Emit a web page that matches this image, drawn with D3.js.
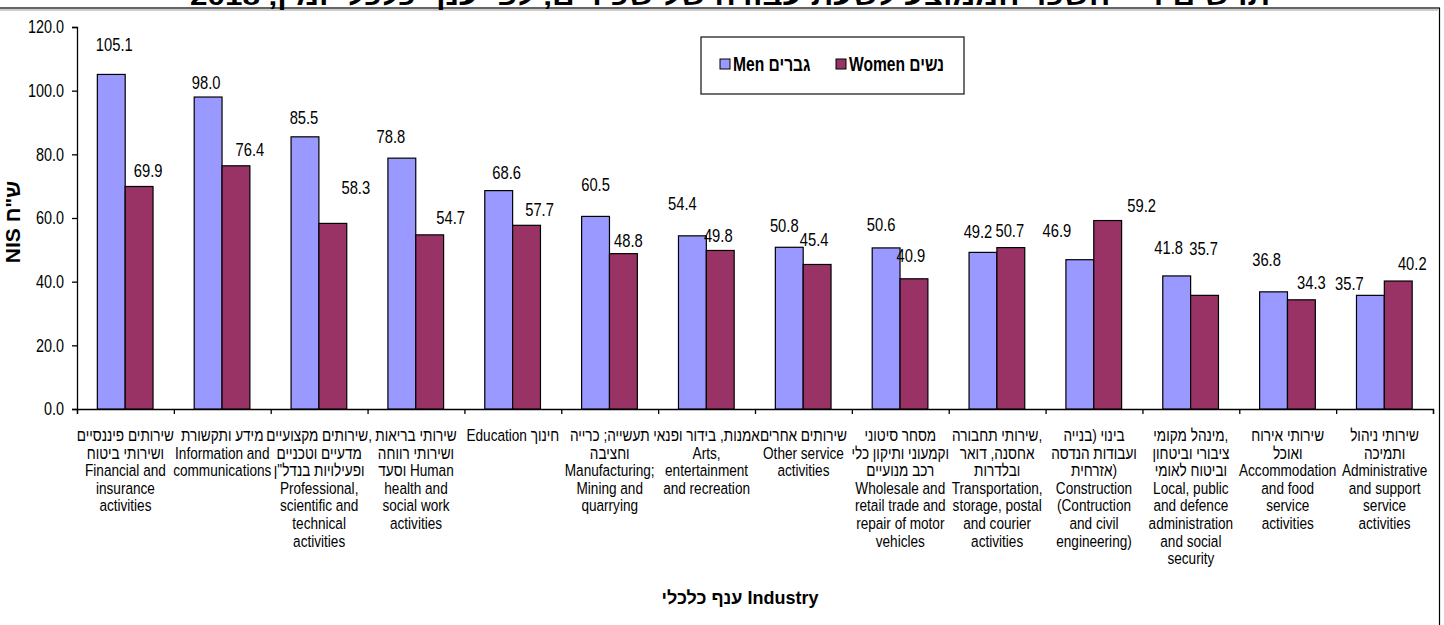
<!DOCTYPE html>
<html>
<head>
<meta charset="utf-8">
<script src="https://cdn.jsdelivr.net/npm/d3@7"></script>
<style>
  body { margin: 0; background: #fff; }
  svg { display: block; }
</style>
</head>
<body>
<svg id="chart" width="1444" height="625"></svg>
<script>
// hourly wage by industry and sex (NIS)
var categories = [
    ["שירותים פיננסיים", "ושירותי ביטוח", "Financial and", "insurance", "activities"],
    ["מידע ותקשורת", "Information and", "communications"],
    ["שירותים מקצועיים,", "מדעיים וטכניים", "ופעילויות בנדל\"ן", "Professional,", "scientific and", "technical", "activities"],
    ["שירותי בריאות", "ושירותי רווחה", "וסעד Human", "health and", "social work", "activities"],
    ["Education חינוך"],
    ["תעשייה; כרייה", "וחציבה", "Manufacturing;", "Mining and", "quarrying"],
    ["אמנות, בידור ופנאי", "Arts,", "entertainment", "and recreation"],
    ["שירותים אחרים", "Other service", "activities"],
    ["מסחר סיטוני", "וקמעוני ותיקון כלי", "רכב מנועיים", "Wholesale and", "retail trade and", "repair of motor", "vehicles"],
    ["שירותי תחבורה,", "אחסנה, דואר", "ובלדרות", "Transportation,", "storage, postal", "and courier", "activities"],
    ["בינוי (בנייה", "ועבודות הנדסה", "אזרחית)", "Construction", "(Contruction", "and civil", "engineering)"],
    ["מינהל מקומי,", "ציבורי וביטחון", "וביטוח לאומי", "Local, public", "and defence", "administration", "and social", "security"],
    ["שירותי אירוח", "ואוכל", "Accommodation", "and food", "service", "activities"],
    ["שירותי ניהול", "ותמיכה", "Administrative", "and support", "service", "activities"]
];
var men   = [105.1, 98.0, 85.5, 78.8, 68.6, 60.5, 54.4, 50.8, 50.6, 49.2, 46.9, 41.8, 36.8, 35.7];
var women = [69.9, 76.4, 58.3, 54.7, 57.7, 48.8, 49.8, 45.4, 40.9, 50.7, 59.2, 35.7, 34.3, 40.2];
var seriesNames = ["Men גברים", "Women נשים"];
var yTicks = [0, 20, 40, 60, 80, 100, 120];

// hand-placed data labels in the original: [dx, rise above bar]
var menLabelShift   = [[3,30],[-2,15],[-1,19],[-11,22],[8,18],[0,32],[-10,32],[-5,22],[-5,23],[-5,21],[-23,29],[-8,28],[-7,32],[-21,12]];
var womenLabelShift = [[9,16],[14,16],[23,36],[21,17],[13,16],[5,13],[-2,15],[-3,25],[-3,23],[-1,17],[34,15],[-1,47],[10,17],[14,18]];

var FONT = "Arial,'Liberation Sans',sans-serif";
var SQUEEZE = 0.8;   // the original uses a condensed face
var colors = ["#9999ff", "#993366"];

var svg = d3.select("#chart");

// frame
svg.append("rect").attr("x", -5).attr("y", 8).attr("width", 1444.5).attr("height", 640)
    .attr("fill", "none").attr("stroke", "#000").attr("stroke-width", 1.2);
svg.append("line").attr("x1", 0).attr("x2", 1438).attr("y1", 10).attr("y2", 10)
    .attr("stroke", "#999").attr("stroke-width", 1);

// title, mostly outside the picture
svg.append("text")
    .attr("x", 730).attr("y", 5)
    .attr("text-anchor", "middle")
    .attr("direction", "rtl")
    .attr("textLength", 1080)
    .attr("lengthAdjust", "spacingAndGlyphs")
    .style("font-family", FONT)
    .style("font-weight", "bold").style("font-size", "26px")
    .text("תרשים ד' - השכר הממוצע לשעת עבודה של שכירים, לפי ענף כלכלי ומין, 2018");

var plotLeft = 77, plotRight = 1433, plotTop = 27, plotBottom = 409;

var x = d3.scaleBand().domain(d3.range(categories.length)).range([plotLeft, plotRight]).padding(0);
var bw = x.bandwidth();
var xSub = d3.scaleBand().domain([0, 1]).range([bw * 0.21, bw * 0.785]);
var y = d3.scaleLinear().domain([0, 120]).range([plotBottom, plotTop]);
var xEdge = d3.scaleLinear().domain([0, categories.length]).range([plotLeft, plotRight]);

// y axis
var yAxis = svg.append("g")
    .attr("transform", "translate(" + plotLeft + ",0)")
    .call(d3.axisLeft(y).tickValues(yTicks).tickFormat(d3.format(".1f")).tickSize(5));
yAxis.selectAll(".tick text")
    .attr("x", 0)
    .attr("transform", "translate(-13,0) scale(" + SQUEEZE + ",1)")
    .style("font-family", FONT).style("font-size", "18px").attr("fill", "#000");

// x axis (category boundaries)
var xAxis = svg.append("g")
    .attr("transform", "translate(0," + plotBottom + ")")
    .call(d3.axisBottom(xEdge).tickValues(d3.range(categories.length + 1)).tickFormat("").tickSize(5));
[yAxis, xAxis].forEach(function (g) {
    g.select(".domain").attr("stroke", "#000").attr("stroke-width", 1.3);
    g.selectAll(".tick line").attr("stroke", "#000").attr("stroke-width", 1.3);
});

// bars
var groups = svg.append("g").selectAll("g")
    .data(categories)
    .join("g")
    .attr("transform", function (d, i) { return "translate(" + x(i) + ",0)"; });

groups.selectAll("rect")
    .data(function (d, i) { return [men[i], women[i]]; })
    .join("rect")
    .attr("x", function (d, j) { return xSub(j); })
    .attr("y", function (d) { return y(d); })
    .attr("width", xSub.bandwidth())
    .attr("height", function (d) { return plotBottom - y(d); })
    .attr("fill", function (d, j) { return colors[j]; })
    .attr("stroke", "#000").attr("stroke-width", 1.2);

// value labels
groups.selectAll("text.val")
    .data(function (d, i) {
        return [
            { v: men[i], s: menLabelShift[i], j: 0 },
            { v: women[i], s: womenLabelShift[i], j: 1 }
        ];
    })
    .join("text")
    .attr("class", "val")
    .attr("transform", function (d) {
        var cx = xSub(d.j) + xSub.bandwidth() / 2 + d.s[0];
        var cy = y(d.v) - d.s[1];
        return "translate(" + cx + "," + cy + ") scale(0.82,1)";
    })
    .attr("dy", "0.36em")
    .attr("text-anchor", "middle")
    .style("font-family", FONT).style("font-size", "18px")
    .text(function (d) { return d3.format(".1f")(d.v); });

// category labels
groups.append("text")
    .attr("transform", "translate(" + bw / 2 + ",0) scale(" + SQUEEZE + ",1)")
    .attr("text-anchor", "middle")
    .style("font-family", FONT).style("font-size", "17px")
    .selectAll("tspan")
    .data(function (d) { return d; })
    .join("tspan")
    .attr("x", 0)
    .attr("y", function (d, k) { return 441 + k * 17.6; })
    .text(function (d) { return d; });

// axis titles
svg.append("text")
    .attr("transform", "translate(20,222) rotate(-90)")
    .attr("text-anchor", "middle")
    .style("font-family", FONT)
    .style("font-weight", "bold").style("font-size", "21px")
    .text("NIS ש\"ח");

svg.append("text")
    .attr("x", 740).attr("y", 604)
    .attr("text-anchor", "middle")
    .style("font-family", FONT)
    .style("font-weight", "bold").style("font-size", "18px")
    .text("ענף כלכלי Industry");

// legend
var legend = svg.append("g");
legend.append("rect").attr("x", 701).attr("y", 37).attr("width", 263).attr("height", 57)
    .attr("fill", "#fff").attr("stroke", "#222").attr("stroke-width", 1.3);
var items = legend.selectAll("g.item")
    .data(seriesNames)
    .join("g")
    .attr("transform", function (d, i) { return "translate(" + [720, 836][i] + ",0)"; });
items.append("rect")
    .attr("x", 0).attr("y", 59).attr("width", 10).attr("height", 10)
    .attr("fill", function (d, i) { return colors[i]; })
    .attr("stroke", "#000").attr("stroke-width", 1);
items.append("text")
    .attr("transform", "translate(13,71) scale(0.78,1)")
    .style("font-family", FONT)
    .style("font-weight", "bold").style("font-size", "20px")
    .text(function (d) { return d; });
</script>
</body>
</html>
